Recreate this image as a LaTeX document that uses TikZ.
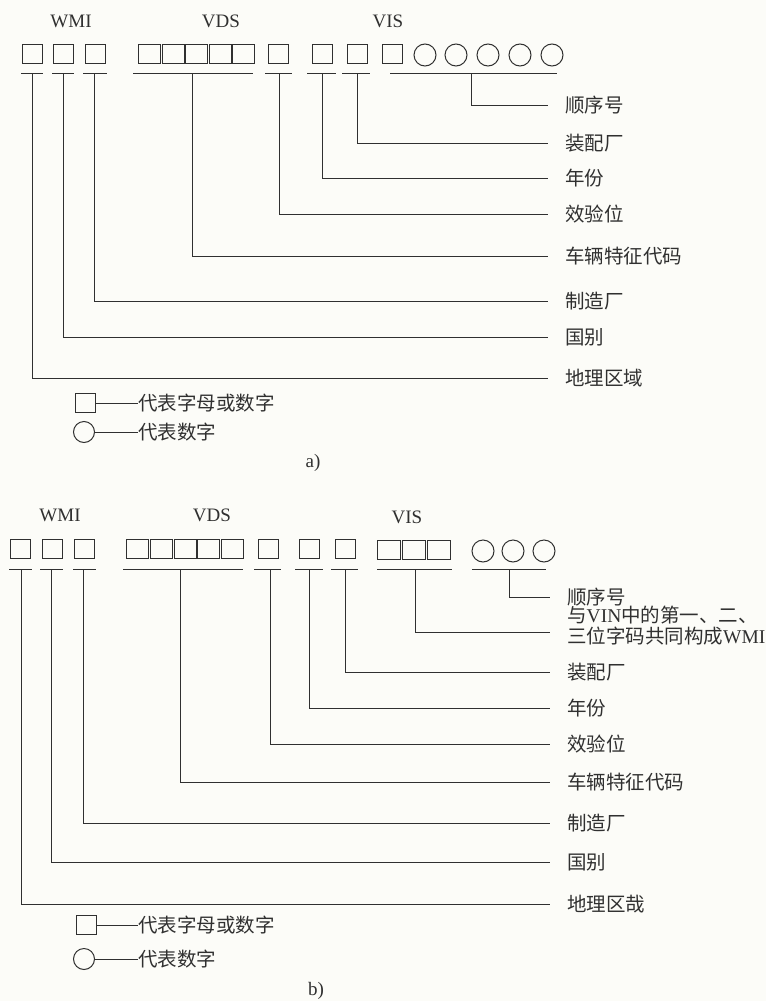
\documentclass[tikz,border=0pt]{standalone}
\usepackage{fontspec}
\setmainfont{Liberation Serif}
\newfontfamily\cjk{Noto Sans CJK SC}
\definecolor{ink}{HTML}{303030}
\definecolor{paper}{HTML}{FCFCF8}
\begin{document}
\begin{tikzpicture}[x=1pt,y=-1pt,
  sq/.style={draw=ink, line width=1pt, minimum width=20pt, minimum height=19pt, inner sep=0pt},
  wsq/.style={sq, minimum width=22pt},
  cir/.style={circle, draw=ink, line width=1pt, minimum size=22pt, inner sep=0pt},
  grp/.style={font=\fontsize{19}{21}\selectfont, text=ink, inner sep=0pt},
  lab/.style={anchor=west, inner xsep=17pt, inner ysep=0pt, font=\cjk\fontsize{19.5}{21}\selectfont, text=ink},
  leg/.style={anchor=west, inner sep=0pt, font=\cjk\fontsize{19.5}{21}\selectfont, text=ink},
  uline/.style={draw=ink, line width=1pt},
  lead/.style={draw=ink, line width=1pt}]
\fill[paper] (0,0) rectangle (766,1001);
\useasboundingbox (0,0) rectangle (766,1001);

% ================= a) =================
\node[grp] (aWMI) at (71,21) {WMI};
\node[grp] (aVDS) at (221,21) {VDS};
\node[grp] (aVIS) at (388,21) {VIS};

\node[sq] (a1) at (32,54) {};
\node[sq] (a2) at (63,54) {};
\node[sq] (a3) at (95,54) {};
\node[wsq] (a4) at (149.5,54) {};
\node[wsq] (a5) at (173,54) {};
\node[wsq] (a6) at (196.5,54) {};
\node[wsq] (a7) at (220,54) {};
\node[wsq] (a8) at (243.5,54) {};
\node[sq] (a9) at (278,54) {};
\node[sq] (a10) at (322,54) {};
\node[sq] (a11) at (357,54) {};
\node[sq] (a12) at (392,54) {};
\node[cir] (a13) at (425,55) {};
\node[cir] (a14) at (456,55) {};
\node[cir] (a15) at (488,55) {};
\node[cir] (a16) at (520,55) {};
\node[cir] (a17) at (552,55) {};

% underlines
\draw[uline] (21,73) -- (43,73);
\draw[uline] (52,73) -- (74,73);
\draw[uline] (83,73) -- (107,73);
\draw[uline] (133,73) -- (253,73);
\draw[uline] (265,73) -- (292,73);
\draw[uline] (307,73) -- (336,73);
\draw[uline] (342,73) -- (370,73);
\draw[uline] (390,73) -- (557,73);

\coordinate (au1) at (32,73);
\coordinate (au2) at (63,73);
\coordinate (au3) at (94,73);
\coordinate (auV) at (192,73);
\coordinate (au9) at (279,73);
\coordinate (au10) at (322,73);
\coordinate (au11) at (357,73);
\coordinate (auS) at (471,73);

\node[lab] (aL1) at (548,105) {顺序号};
\node[lab] (aL2) at (548,143) {装配厂};
\node[lab] (aL3) at (548,178) {年份};
\node[lab] (aL4) at (548,214) {效验位};
\node[lab] (aL5) at (548,256) {车辆特征代码};
\node[lab] (aL6) at (548,301) {制造厂};
\node[lab] (aL7) at (548,337) {国别};
\node[lab] (aL8) at (548,378) {地理区域};

\draw[lead] (auS) |- (aL1.west);
\draw[lead] (au11) |- (aL2.west);
\draw[lead] (au10) |- (aL3.west);
\draw[lead] (au9) |- (aL4.west);
\draw[lead] (auV) |- (aL5.west);
\draw[lead] (au3) |- (aL6.west);
\draw[lead] (au2) |- (aL7.west);
\draw[lead] (au1) |- (aL8.west);

% legend a
\node[sq] (aLsq) at (85,403) {};
\node[leg] (aLsqT) at (138,403) {代表字母或数字};
\draw[lead] (aLsq.east) -- (aLsqT.west);
\node[cir, minimum size=21pt] (aLci) at (84,432) {};
\node[leg] (aLciT) at (138,432) {代表数字};
\draw[lead] (aLci.east) -- (aLciT.west);
\node[grp] (acap) at (313,463) {a)};

% ================= b) =================
\node[grp] (bWMI) at (60,515) {WMI};
\node[grp] (bVDS) at (212,515) {VDS};
\node[grp] (bVIS) at (407,517) {VIS};

\node[sq] (b1) at (20,549) {};
\node[sq] (b2) at (52,549) {};
\node[sq] (b3) at (84,549) {};
\node[wsq] (b4) at (137.8,549) {};
\node[wsq] (b5) at (161.4,549) {};
\node[wsq] (b6) at (185,549) {};
\node[wsq] (b7) at (208.6,549) {};
\node[wsq] (b8) at (232.2,549) {};
\node[sq] (b9) at (268,549) {};
\node[sq] (b10) at (309,549) {};
\node[sq] (b11) at (345,549) {};
\node[wsq, minimum width=23pt] (b12) at (389.3,550) {};
\node[wsq, minimum width=23pt] (b13) at (414,550) {};
\node[wsq, minimum width=23pt] (b14) at (438.7,550) {};
\node[cir] (b15) at (483,551) {};
\node[cir] (b16) at (513,551) {};
\node[cir] (b17) at (544,551) {};

\draw[uline] (9,569) -- (32,569);
\draw[uline] (40,569) -- (63,569);
\draw[uline] (73,569) -- (96,569);
\draw[uline] (123,569) -- (243,569);
\draw[uline] (254,569) -- (281,569);
\draw[uline] (295,569) -- (323,569);
\draw[uline] (331,569) -- (358,569);
\draw[uline] (377,569) -- (452,569);
\draw[uline] (472,569) -- (546,569);

\coordinate (bu1) at (21,569);
\coordinate (bu2) at (51,569);
\coordinate (bu3) at (83,569);
\coordinate (buV) at (180,569);
\coordinate (bu9) at (270,569);
\coordinate (bu10) at (309,569);
\coordinate (bu11) at (345,569);
\coordinate (buW) at (415,569);
\coordinate (buS) at (509,569);

\node[lab] (bL1) at (550,597) {顺序号};
\node[lab, align=left] (bL2) at (550,625.5)
  {与\rmfamily VIN\cjk 中的第一、二、\\三位字码共同构成\rmfamily WMI};
\node[lab] (bL3) at (550,672) {装配厂};
\node[lab] (bL4) at (550,708) {年份};
\node[lab] (bL5) at (550,744) {效验位};
\node[lab] (bL6) at (550,782) {车辆特征代码};
\node[lab] (bL7) at (550,823) {制造厂};
\node[lab] (bL8) at (550,862) {国别};
\node[lab] (bL9) at (550,904) {地理区哉};

\draw[lead] (buS) |- (bL1.west);
\draw[lead] (buW) |- ([yshift=-6.5pt]bL2.west);
\draw[lead] (bu11) |- (bL3.west);
\draw[lead] (bu10) |- (bL4.west);
\draw[lead] (bu9) |- (bL5.west);
\draw[lead] (buV) |- (bL6.west);
\draw[lead] (bu3) |- (bL7.west);
\draw[lead] (bu2) |- (bL8.west);
\draw[lead] (bu1) |- (bL9.west);

% legend b
\node[sq] (bLsq) at (86,925) {};
\node[leg] (bLsqT) at (138,925) {代表字母或数字};
\draw[lead] (bLsq.east) -- (bLsqT.west);
\node[cir, minimum size=21pt] (bLci) at (84,959) {};
\node[leg] (bLciT) at (138,959) {代表数字};
\draw[lead] (bLci.east) -- (bLciT.west);
\node[grp] (bcap) at (316,991) {b)};
\end{tikzpicture}
\end{document}
